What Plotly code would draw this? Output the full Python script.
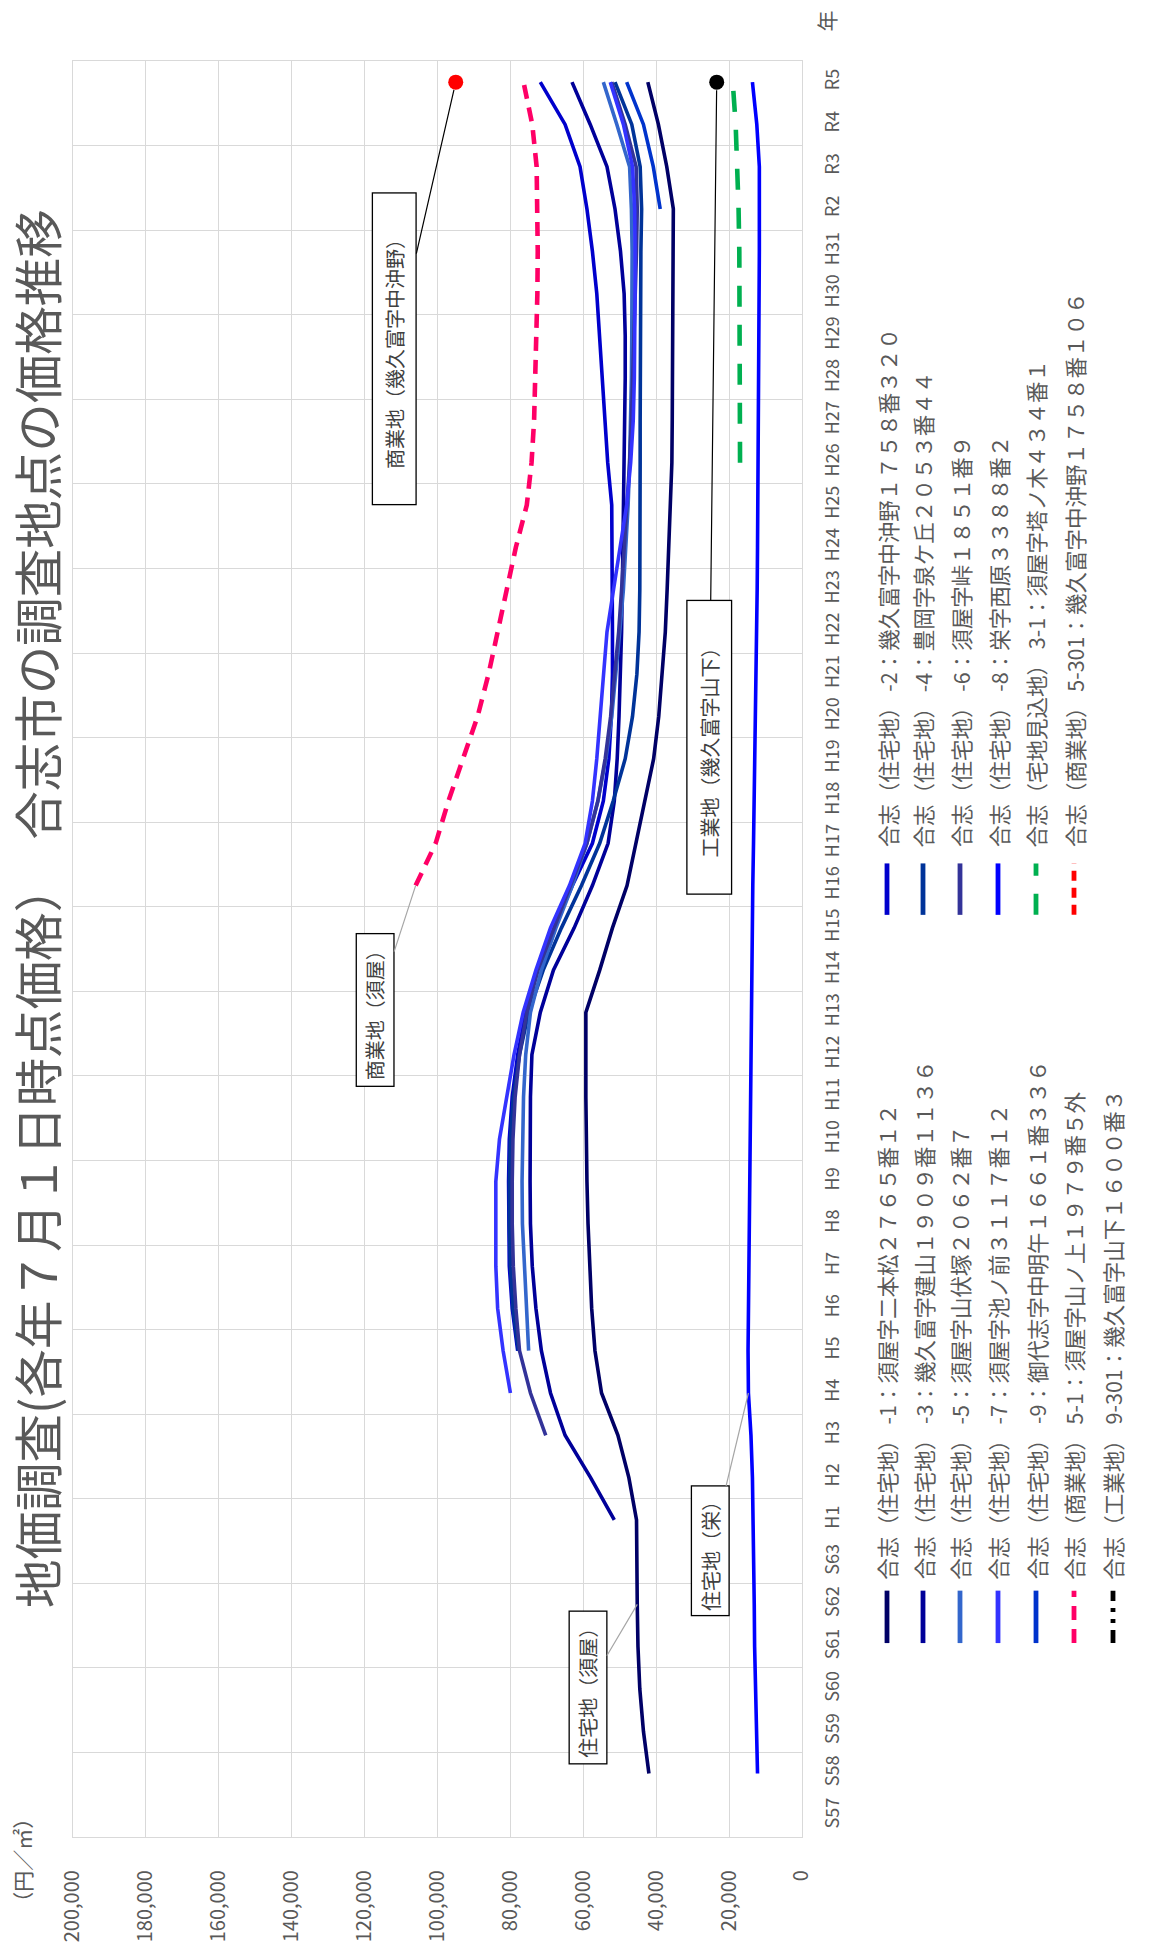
import plotly.graph_objects as go

# ---- category axis (survey years) ----
years = ["S57", "S58", "S59", "S60", "S61", "S62", "S63",
         "H1", "H2", "H3", "H4", "H5", "H6", "H7", "H8", "H9", "H10",
         "H11", "H12", "H13", "H14", "H15", "H16", "H17", "H18", "H19", "H20",
         "H21", "H22", "H23", "H24", "H25", "H26", "H27", "H28", "H29", "H30",
         "H31", "R2", "R3", "R4", "R5"]

price_ticks = [0, 20000, 40000, 60000, 80000, 100000,
               120000, 140000, 160000, 180000, 200000]

# ---- land prices (yen / m2), each series listed from its first survey year ----
res1_start = "S58"
res1 = [42000, 43500, 44500, 45000, 45200, 45300, 45400, 47500, 50500, 55000,
        56800, 57700, 58300, 58700, 59000, 59200, 59300, 59300, 59300, 55500,
        52000, 48000, 45500, 43000, 40700, 39300, 38300, 37500, 37000, 36500,
        36000, 35700, 35600, 35500, 35500, 35400, 35300, 35300, 37100, 39400, 42300]

res2_start = "H5"
res2 = [78000, 79500, 80300, 80500, 80500, 80300, 79500, 78000, 75800, 72500,
        68000, 63000, 57500, 54500, 53000, 52300, 52000, 52000, 52000, 52000,
        52200, 53300, 54000, 54700, 55500, 56300, 57500, 59000, 60900, 65000, 71800]

res3_start = "H1"
res3 = [51500, 58000, 65000, 69000, 71500, 73000, 74000, 74500, 74600, 74600,
        74500, 74100, 71800, 68200, 62500, 57500, 53200, 51500, 50700, 50200,
        49800, 49500, 49300, 49100, 49000, 48800, 48600, 48500, 48500, 48800,
        49800, 51300, 53500, 58100, 63100]

res4_start = "H5"
res4 = [77800, 79300, 80000, 80300, 80300, 80000, 79200, 77500, 75000, 71000,
        66000, 60500, 55500, 51800, 48500, 46500, 45300, 44700, 44500, 44400,
        44400, 44400, 44400, 44400, 44400, 44300, 44200, 44000, 44400, 46700, 51300]

res5_start = "H5"
res5 = [75000, 75500, 76200, 76700, 76800, 76700, 76400, 75800, 74500, 71500,
        67500, 63000, 59000, 56000, 53800, 52200, 51000, 50000, 49000, 48300,
        47700, 47300, 47000, 46800, 46700, 46600, 46600, 46800, 47300, 50800, 54500]

res6_start = "H3"
res6 = [70300, 74500, 77500, 78500, 79200, 79500, 79500, 79300, 78700, 77500,
        75500, 72500, 68000, 63500, 59000, 56000, 54000, 52500, 51300, 50300,
        49500, 48700, 48000, 47300, 46800, 46400, 46000, 45700, 45400, 45200,
        45500, 48500, 52200]

res7_start = "H4"
res7 = [80000, 82000, 83500, 84000, 84000, 84000, 83000, 81000, 79000, 76500,
        73000, 69000, 63800, 59500, 57500, 56300, 55300, 54300, 53500, 51700,
        49800, 48100, 47000, 46300, 46000, 45800, 45800, 45800, 45900, 46500,
        49000, 52600]

res8_start = "S58"
res8 = [12200, 12500, 12800, 13000, 13100, 13200, 13350, 13600, 14000, 14700,
        14800, 14700, 14600, 14500, 14400, 14300, 14200, 14100, 14000, 13900,
        13700, 13500, 13300, 13100, 12900, 12700, 12600, 12400, 12300, 12200,
        12100, 12000, 11900, 11900, 11800, 11800, 11700, 11700, 11700, 12400, 13600]

res9_start = "R2"
res9 = [38900, 40800, 43500, 48100]

pre31_start = "H26"
pre31 = [17000, 17000, 17000, 17000, 17100, 17200, 17400, 17700, 18200, 19000]

com51_start = "H16"
com51 = [106000, 100500, 97000, 93000, 89000, 86000, 83500, 81000, 78500, 75500,
         74200, 73500, 73100, 72800, 72600, 72500, 72500, 72800, 74000, 76400]

com5301_start = "R5"
com5301 = [95000]

ind9301_start = "R5"
ind9301 = [23400]

series_names = [
    "合志（住宅地） -1：須屋字二本松２７６５番１２",
    "合志（住宅地） -2：幾久富字中沖野１７５８番３２０",
    "合志（住宅地） -3：幾久富字建山１９０９番１１３６",
    "合志（住宅地） -4：豊岡字泉ケ丘２０５３番４４",
    "合志（住宅地） -5：須屋字山伏塚２０６２番７",
    "合志（住宅地） -6：須屋字峠１８５１番９",
    "合志（住宅地） -7：須屋字池ノ前３１１７番１２",
    "合志（住宅地） -8：栄字西原３３８８番２",
    "合志（住宅地） -9：御代志字中明午１６６１番３３６",
    "合志（宅地見込地） 3-1：須屋字塔ノ木４３４番１",
    "合志（商業地） 5-1：須屋字山ノ上１９７９番５外",
    "合志（商業地） 5-301：幾久富字中沖野１７５８番１０６",
    "合志（工業地） 9-301：幾久富字山下１６００番３",
]

# ---- styling ----
W, H = 1150, 1954
L, R, T, B = 73, 348, 61, 98
PW, PH = W - L - R, H - T - B
GRID = "#D9D9D9"
TXT = "#595959"
FONT = "Noto Sans CJK JP"

styles = [
    dict(color="#000066", dash="solid"),
    dict(color="#0000CC", dash="solid"),
    dict(color="#000099", dash="solid"),
    dict(color="#003399", dash="solid"),
    dict(color="#3366CC", dash="solid"),
    dict(color="#333399", dash="solid"),
    dict(color="#3333FF", dash="solid"),
    dict(color="#0000FF", dash="solid"),
    dict(color="#0033CC", dash="solid"),
    dict(color="#00B050", dash="21px,18px"),
    dict(color="#FF0066", dash="14px,9px"),
    dict(color="#FF0000", dash="10px,7px"),
    dict(color="#000000", dash="13px,7px,4px,7px,4px,7px"),
]

data = [(res1_start, res1), (res2_start, res2), (res3_start, res3), (res4_start, res4),
        (res5_start, res5), (res6_start, res6), (res7_start, res7), (res8_start, res8),
        (res9_start, res9), (pre31_start, pre31), (com51_start, com51),
        (com5301_start, com5301), (ind9301_start, ind9301)]


def positions(start, vals):
    i0 = years.index(start)
    return list(range(i0, i0 + len(vals)))


fig = go.Figure()
for (start, vals), st, name in zip(data, styles, series_names):
    ys = positions(start, vals)
    if len(vals) == 1:
        fig.add_trace(go.Scatter(x=vals, y=ys, mode="markers", name=name,
                                 marker=dict(color=st["color"], size=15)))
    else:
        width = 3.6 if st["dash"] == "solid" else 4.6
        fig.add_trace(go.Scatter(x=vals, y=ys, mode="lines", name=name,
                                 line=dict(color=st["color"], width=width, dash=st["dash"])))


def pxp(x):
    return (x - L) / PW


def pyp(y):
    return (H - B - y) / PH


annotations = []
shapes = []

# title and axis captions (the whole chart reads rotated by 90 degrees)
annotations.append(dict(text="地価調査(各年７月１日時点価格）　合志市の調査地点の価格推移",
                        xref="paper", yref="paper", x=pxp(36), y=pyp(1626),
                        xanchor="center", yanchor="bottom", textangle=-90, showarrow=False,
                        borderpad=0,
                        font=dict(size=48.5, color=TXT, family=FONT)))
annotations.append(dict(text="（円／㎡）", xref="paper", yref="paper",
                        x=pxp(22), y=pyp(1880), xanchor="center", yanchor="middle",
                        textangle=-90, showarrow=False, font=dict(size=21, color=TXT, family=FONT)))
annotations.append(dict(text="年", xref="paper", yref="paper",
                        x=pxp(826), y=pyp(21), xanchor="center", yanchor="middle",
                        textangle=-90, showarrow=False, font=dict(size=21, color=TXT, family=FONT)))

# legend drawn as rotated rows
rows_x = [887, 923, 960, 998, 1036, 1074, 1113]
left_col = [0, 2, 4, 6, 8, 10, 12]
right_col = [1, 3, 5, 7, 9, 11]
for col, (y_line0, y_line1, y_text) in ((left_col, (1660, 1607, 1598)),
                                        (right_col, (924, 872, 858))):
    for row, k in enumerate(col):
        st = styles[k]
        shapes.append(dict(type="line", xref="paper", yref="paper",
                           x0=pxp(rows_x[row]), x1=pxp(rows_x[row]),
                           y0=pyp(y_line0), y1=pyp(y_line1),
                           line=dict(color=st["color"], width=4.8,
                                     dash=st["dash"] if st["dash"] != "solid" else None)))
        annotations.append(dict(text=series_names[k], xref="paper", yref="paper",
                                x=pxp(rows_x[row]), y=pyp(y_text),
                                xanchor="center", yanchor="bottom", textangle=-90,
                                showarrow=False, font=dict(size=21.5, color=TXT, family=FONT)))


# callout boxes with leader lines pointing at data points
def callout(text, series, year, cx, cy, w, h, color):
    start, vals = data[series]
    idx = years.index(year)
    val = vals[idx - years.index(start)]
    tip_x = L + PW * (1 - val / 200000)
    tip_y = T + PH * (41.5 - idx) / 42
    annotations.append(dict(text=text, x=val, y=idx, xref="x", yref="y",
                            ax=cx - tip_x, ay=cy - tip_y, axref="pixel", ayref="pixel",
                            showarrow=True, arrowhead=0, arrowwidth=1.2, arrowcolor=color,
                            standoff=8 if len(vals) == 1 else 0,
                            textangle=-90, width=w, height=h, borderpad=0,
                            bordercolor="#000000", borderwidth=1.3, bgcolor="#FFFFFF",
                            font=dict(size=20, color="#404040", family=FONT)))


callout("住宅地（須屋）", 0, "S62", 588, 1704, 151, 36, "#A6A6A6")
callout("住宅地（栄）", 7, "H4", 710.5, 1565, 128, 36, "#A6A6A6")
callout("商業地（須屋）", 10, "H16", 375.3, 1018.5, 151, 36, "#A6A6A6")
callout("商業地（幾久富字中沖野）", 11, "R5", 394.5, 349, 310, 42, "#000000")
callout("工業地（幾久富字山下）", 12, "R5", 709, 748, 292, 43, "#000000")

fig.update_layout(
    width=W, height=H,
    margin=dict(l=L, r=R, t=T, b=B, pad=0),
    paper_bgcolor="#FFFFFF", plot_bgcolor="#FFFFFF",
    showlegend=False,
    font=dict(family=FONT, color=TXT),
    annotations=annotations, shapes=shapes,
    xaxis=dict(range=[200000, 0], tickvals=price_ticks, tickformat=",",
               showgrid=True, gridcolor=GRID, gridwidth=1.3, zeroline=False,
               showline=True, mirror=True, linecolor=GRID, linewidth=1.3,
               tickangle=-90, ticks="", ticklabelstandoff=24,
               tickfont=dict(size=20, color=TXT, family=FONT)),
    yaxis=dict(range=[-0.5, 41.5], tickvals=list(range(len(years))), ticktext=years,
               side="right", showgrid=False, zeroline=False,
               showline=True, mirror=True, linecolor=GRID, linewidth=1.3,
               tickangle=-90, ticks="", ticklabelstandoff=14,
               tickfont=dict(size=18, color=TXT, family=FONT),
               minor=dict(tickvals=[-0.5 + 2 * k for k in range(22)], showgrid=True,
                          gridcolor=GRID, gridwidth=1.3, ticks="")),
)

fig.write_html("out.html")
